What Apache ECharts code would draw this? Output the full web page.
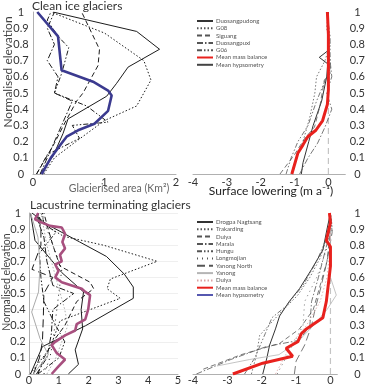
<!DOCTYPE html>
<html>
<head>
<meta charset="utf-8">
<script src="https://cdn.jsdelivr.net/npm/echarts@6/dist/echarts.min.js"></script>
<style>html,body{margin:0;padding:0;background:#fff}#main{width:368px;height:386px}</style>
</head>
<body>
<div id="main"></div>
<script>
// hypsometry of clean ice glaciers: [area km2, normalised elevation]
var cleanDuosangpudong = [[0.1,0],[0.28,0.11],[0.42,0.25],[0.49,0.34],[1.03,0.48],[1.17,0.56],[1.33,0.66],[1.77,0.77],[1.45,0.88],[0.28,1.0]];
var cleanG08 = [[0.15,0],[0.3,0.1],[0.6,0.2],[1.0,0.33],[1.45,0.42],[1.65,0.58],[1.55,0.7],[1.0,0.87],[0.25,1.0]];
var cleanSiguang = [[0.05,0],[0.3,0.19],[0.45,0.32],[0.61,0.45],[0.7,0.5],[0.91,0.67],[0.93,0.77],[0.68,1.0]];
var cleanDuosangpuxi = [[0.1,0],[0.2,0.1],[0.35,0.25],[0.45,0.35],[0.55,0.45],[0.3,0.5],[0.35,0.6],[0.2,0.7],[0.3,0.8],[0.2,0.9],[0.3,1.0]];
var cleanG06 = [[0.05,0],[0.2,0.12],[0.65,0.22],[0.55,0.3],[1.05,0.32],[0.75,0.42],[0.3,0.5],[0.4,0.62],[0.5,0.78],[0.35,0.85],[0.2,0.95],[0.25,1.0]];
var cleanMeanHyps = [[0.12,0],[0.25,0.1],[0.4,0.19],[0.47,0.23],[0.63,0.27],[0.86,0.31],[1.05,0.39],[1.1,0.485],[1.05,0.515],[0.84,0.57],[0.4,0.64],[0.35,0.85],[0.06,1.0]];

// surface lowering clean ice: [m a-1, normalised elevation]
var lowDuosangpudong = [[-0.8,0],[-0.75,0.07],[-0.58,0.2],[-0.45,0.3],[-0.2,0.45],[-0.05,0.6],[-0.02,0.68],[-0.27,0.72],[-0.02,0.76],[0,0.9],[0,1]];
var lowG08 = [[-1.1,0],[-0.95,0.1],[-0.75,0.2],[-0.55,0.35],[-0.4,0.5],[-0.35,0.6],[-0.1,0.7],[0.05,0.8],[-0.05,0.9],[0,1]];
var lowSiguang = [[-1.43,0],[-1.0,0.12],[-0.7,0.22],[-0.41,0.29],[-0.25,0.42],[-0.12,0.58],[0.05,0.62],[0,0.8],[0,1]];
var lowDuosangpuxi = [[-0.85,0],[-0.6,0.1],[-0.32,0.19],[-0.1,0.29],[0.1,0.4],[-0.05,0.5],[0.1,0.6],[0,0.8],[0,1]];
var lowG06 = [[-1.25,0],[-1.1,0.1],[-0.9,0.2],[-0.6,0.3],[-0.35,0.45],[-0.15,0.55],[0.05,0.65],[0.05,0.85],[-0.05,1]];
var lowCleanMean = [[-1.08,0],[-0.9,0.13],[-0.75,0.18],[-0.61,0.23],[-0.37,0.27],[-0.17,0.33],[-0.03,0.43],[0,0.52],[0,0.86],[-0.03,1]];

// hypsometry of lacustrine terminating glaciers
var lakeDrogpa = [[0.05,0],[0.45,0.17],[1.9,0.3],[3.5,0.47],[3.5,0.54],[3.2,0.62],[2.6,0.73],[1.7,0.82],[1.2,0.87],[0.6,0.93],[0.1,1.0]];
var lakeSolid2 = [[1.32,0],[1.66,0.06],[1.55,0.15],[1.8,0.28],[1.75,0.4],[1.83,0.51],[1.1,0.63],[0.2,0.83],[0.05,1.0]];
var lakeTrakarding = [[0.04,0],[0.7,0.16],[1.04,0.33],[3.06,0.47],[2.62,0.53],[2.73,0.59],[4.3,0.7],[2.5,0.8],[1.16,0.855],[0.5,0.93],[0.45,1.0]];
var lakeDuiya = [[0.3,0],[0.5,0.1],[0.8,0.2],[1.2,0.3],[1.6,0.45],[2.17,0.53],[2.05,0.57],[1.04,0.67],[0.8,0.8],[0.6,0.93],[0.5,1.0]];
var lakeMarala = [[0.25,0],[0.6,0.1],[0.75,0.25],[0.8,0.4],[1.5,0.5],[0.8,0.55],[0.6,0.7],[0.5,0.85],[0.3,0.95],[0.3,1.0]];
var lakeHungu = [[0.3,0],[1.0,0.1],[1.2,0.2],[0.9,0.3],[0.5,0.45],[0.4,0.6],[0.35,0.75],[0.9,0.88],[0.4,0.95],[0.3,1.0]];
var lakeLongmojian = [[0.5,0],[0.7,0.1],[0.8,0.2],[0.9,0.35],[1.0,0.5],[1.1,0.65],[0.8,0.8],[0.6,0.9],[0.4,1.0]];
var lakeYanongNorth = [[0.15,0],[0.35,0.1],[0.45,0.2],[0.48,0.35],[0.5,0.5],[0.8,0.6],[0.1,0.65],[0.4,0.8],[0.4,0.9],[0.3,1.0]];
var lakeYanong = [[0.15,0],[0.65,0.12],[0.37,0.22],[0.09,0.385],[0.32,0.51],[0.37,0.67],[0.3,0.85],[0.05,1.0]];
var lakeDuiya2 = [[0.6,0],[0.9,0.1],[1.1,0.2],[1.3,0.3],[1.2,0.4],[0.9,0.6],[0.6,0.8],[0.4,1.0]];
var lakeMeanHyps = [[0.76,0],[0.99,0.047],[1.21,0.09],[0.93,0.13],[0.76,0.18],[0.88,0.2],[1.21,0.24],[1.55,0.27],[1.6,0.31],[1.89,0.34],[1.99,0.405],[2.05,0.49],[1.89,0.51],[1.77,0.53],[1.1,0.57],[0.88,0.6],[0.99,0.64],[0.88,0.68],[1.1,0.7],[1.04,0.74],[1.21,0.78],[1.12,0.82],[1.21,0.87],[1.1,0.91],[0.71,0.92],[0.43,0.94],[0.2,0.96],[0.31,1.0]];

// surface lowering lacustrine terminating glaciers
var lowDrogpa = [[-1.97,0],[-1.85,0.1],[-1.77,0.18],[-1.6,0.28],[-1.48,0.36],[-1.2,0.45],[-0.9,0.53],[-0.55,0.65],[-0.22,0.77],[-0.1,0.9],[0,1]];
var lowTrakarding = [[-2.3,0],[-2.15,0.12],[-2.06,0.24],[-1.5,0.37],[-0.95,0.49],[-0.6,0.6],[-0.3,0.72],[-0.1,0.85],[0.05,0.92],[0,1]];
var lowDuiya = [[-3.7,0.03],[-2.6,0.12],[-1.48,0.19],[-0.9,0.28],[-0.5,0.4],[-0.3,0.55],[-0.1,0.7],[0,0.9],[0,1]];
var lowMarala = [[-3.9,0],[-2.9,0.09],[-1.87,0.17],[-0.9,0.21],[-0.6,0.3],[-0.55,0.45],[-0.35,0.6],[-0.05,0.85],[0,1]];
var lowHungu = [[-2.5,0],[-2.2,0.1],[-1.9,0.25],[-1.7,0.35],[-1.3,0.42],[-0.8,0.55],[-0.4,0.7],[-0.1,0.85],[0,1]];
var lowLongmojian = [[-1.55,0],[-1.3,0.1],[-1.05,0.2],[-0.8,0.3],[-0.75,0.45],[-0.4,0.6],[-0.15,0.75],[0.05,0.88],[0,1]];
var lowYanongNorth = [[-1.05,0],[-1.0,0.08],[-0.75,0.18],[-0.55,0.3],[-0.45,0.4],[-0.3,0.52],[-0.1,0.7],[0.05,0.88],[0,1]];
var lowYanong = [[-3.3,0.05],[-2.35,0.09],[-1.5,0.12],[-0.95,0.2],[-0.5,0.3],[-0.1,0.4],[0.17,0.49],[0,0.6],[0,0.8],[0,1]];
var lowDuiya2 = [[-1.6,0],[-1.35,0.1],[-1.1,0.2],[-0.7,0.3],[-0.3,0.45],[-0.1,0.6],[0,0.8],[0,1]];
var lowLakeMean = [[-2.84,0],[-1.97,0.067],[-1.1,0.11],[-1.29,0.16],[-0.95,0.2],[-0.85,0.25],[-0.7,0.28],[-0.22,0.35],[-0.12,0.45],[0,0.67],[0,0.79],[-0.12,0.83],[0,0.94],[-0.03,1.0]];

var zeroLine = [[0,0],[0,1]];

var FONT = 'Lato';
var DOT = [1.5,2], DASH = [5,3], DASHDOT = [6,2,1.5,2], DASHDOTDOT = [5,2,1.5,2,1.5,2], SPARSE = [1,4], LONGDASH = [8,4];

function ln(name, data, idx, color, width, dash, z) {
  return {
    name: name, type: 'line', xAxisIndex: idx, yAxisIndex: idx, data: data,
    symbol: 'none', silent: true, z: z || 2,
    lineStyle: {color: color, width: width, type: dash || 'solid'},
    itemStyle: {color: color}
  };
}

function yAx(idx, pos, margin, fs, showLine, split) {
  return {
    type: 'value', gridIndex: idx, position: pos, min: 0, max: 1, interval: 0.1,
    axisLine: {show: showLine, lineStyle: {color: '#b0b0b0'}},
    axisTick: {show: false},
    splitLine: {show: split, lineStyle: {color: '#efefef'}},
    axisLabel: {margin: margin, align: 'center', fontSize: fs, color: '#333', fontFamily: FONT}
  };
}
function xAx(idx, min, max, margin, fs, showMax) {
  return {
    type: 'value', gridIndex: idx, min: min, max: max, interval: 1,
    axisLine: {show: true, onZero: false, lineStyle: {color: '#b0b0b0'}},
    axisTick: {show: false}, splitLine: {show: false},
    axisLabel: {margin: margin, fontSize: fs, color: '#333', fontFamily: FONT, showMaxLabel: showMax}
  };
}

var K = '#1c1c1c', G = '#555';
var series = [
  ln('Duosangpudong#c', cleanDuosangpudong, 0, K, 1),
  ln('G08#c', cleanG08, 0, K, 1, DOT),
  ln('Siguang#c', cleanSiguang, 0, K, 1, DASH),
  ln('Duosangpuxi#c', cleanDuosangpuxi, 0, K, 1, DASHDOT),
  ln('G06#c', cleanG06, 0, K, 1, DASHDOTDOT),
  ln('Mean hypsometry#c', cleanMeanHyps, 0, '#3b3a8f', 2.6, 'solid', 5),

  ln('zero#2', zeroLine, 1, '#c4c4c4', 1.2, [6,4], 1),
  ln('Duosangpudong', lowDuosangpudong, 1, '#333', 1),
  ln('G08', lowG08, 1, G, 0.8, DOT),
  ln('Siguang', lowSiguang, 1, G, 0.8, DASH),
  ln('Duosangpuxi', lowDuosangpuxi, 1, G, 0.8, DASHDOT),
  ln('G06', lowG06, 1, G, 0.8, DASHDOTDOT),
  ln('Mean mass balance', lowCleanMean, 1, '#e8211d', 3, 'solid', 5),
  ln('Mean hypsometry', [], 1, '#444', 1.5),

  ln('Drogpa#l', lakeDrogpa, 2, K, 1),
  ln('Solid2#l', lakeSolid2, 2, K, 1),
  ln('Trakarding#l', lakeTrakarding, 2, K, 1, DOT),
  ln('Duiya#l', lakeDuiya, 2, K, 1, DASH),
  ln('Marala#l', lakeMarala, 2, K, 1, DASHDOT),
  ln('Hungu#l', lakeHungu, 2, K, 1, DASHDOTDOT),
  ln('Longmojian#l', lakeLongmojian, 2, K, 1, SPARSE),
  ln('Yanong North#l', lakeYanongNorth, 2, K, 1, LONGDASH),
  ln('Yanong#l', lakeYanong, 2, '#aaa', 1),
  ln('Duiya2#l', lakeDuiya2, 2, '#999', 0.8, DOT),
  ln('Mean hypsometry#l', lakeMeanHyps, 2, '#a8507f', 2.6, 'solid', 5),

  ln('zero#4', zeroLine, 3, '#c4c4c4', 1.2, [6,4], 1),
  ln('Drogpa Nagtsang', lowDrogpa, 3, '#333', 1),
  ln('Trakarding', lowTrakarding, 3, G, 0.8, DOT),
  ln('Duiya', lowDuiya, 3, G, 0.8, DASH),
  ln('Marala', lowMarala, 3, G, 0.8, DASHDOT),
  ln('Hungu', lowHungu, 3, G, 0.8, DASHDOTDOT),
  ln('Longmojian', lowLongmojian, 3, G, 0.8, SPARSE),
  ln('Yanong North', lowYanongNorth, 3, G, 0.8, LONGDASH),
  ln('Yanong', lowYanong, 3, '#b5b5b5', 0.8),
  ln('Duiya#2', lowDuiya2, 3, '#d9a3a3', 0.8, DOT),
  ln('Mean mass balance#4', lowLakeMean, 3, '#e8211d', 3, 'solid', 5),
  ln('Mean hypsometry#4', [], 3, '#5658b0', 1.5)
];

function legend(top, names) {
  return {
    orient: 'vertical', left: 191, top: top, data: names, selectedMode: false,
    itemWidth: 16, itemHeight: 6, itemGap: 1.3,
    itemStyle: {opacity: 0},
    textStyle: {fontSize: 6, lineHeight: 6, color: '#555', fontFamily: FONT, padding: [0,0,0,-2]},
    formatter: function (n) { return n.split('#')[0]; }
  };
}

var chart = echarts.init(document.getElementById('main'));
chart.setOption({
  animation: false,
  backgroundColor: '#fff',
  grid: [
    {left: 33, top: 12, width: 143, height: 162},
    {left: 193, top: 12, width: 155, height: 162},
    {left: 29, top: 213, width: 149, height: 163},
    {left: 193, top: 213, width: 145, height: 163}
  ],
  xAxis: [xAx(0, 0, 2, 3, 11, true), xAx(1, -4, 0.5, 3, 11, false), xAx(2, 0, 5, 1, 11, true), xAx(3, -4, 0.2, 1, 11, false)],
  yAxis: [yAx(0, 'left', 12, 11, true, false), yAx(1, 'right', 12, 11, false, false), yAx(2, 'left', 11, 11, true, true), yAx(3, 'right', 20, 11, false, false)],
  legend: [
    legend(13, ['Duosangpudong', 'G08', 'Siguang', 'Duosangpuxi', 'G06', 'Mean mass balance', 'Mean hypsometry']),
    legend(214, ['Drogpa Nagtsang', 'Trakarding', 'Duiya', 'Marala', 'Hungu', 'Longmojian', 'Yanong North', 'Yanong', 'Duiya#2', 'Mean mass balance#4', 'Mean hypsometry#4'])
  ],
  graphic: [
    {type: 'text', left: 32, top: 0, style: {text: 'Clean ice glaciers', fontSize: 12, fill: '#333', fontFamily: FONT}},
    {type: 'text', left: 30, top: 199, style: {text: 'Lacustrine terminating glaciers', fontSize: 12, fill: '#333', fontFamily: FONT}},
    {type: 'text', x: 119, y: 189, style: {text: 'Glacierised area (Km\u00b2)', fontSize: 10.5, fill: '#666', fontFamily: FONT, align: 'center', verticalAlign: 'middle'}},
    {type: 'text', x: 271, y: 191, style: {text: 'Surface lowering (m a\u207b\u00b9)', fontSize: 12, fill: '#222', fontFamily: FONT, align: 'center', verticalAlign: 'middle'}},
    {type: 'text', x: 8, y: 72, rotation: Math.PI / 2, style: {text: 'Normalised elevation', fontSize: 12, fill: '#444', fontFamily: FONT, align: 'center', verticalAlign: 'middle'}},
    {type: 'text', x: 7, y: 282, rotation: Math.PI / 2, style: {text: 'Normalised elevation', fontSize: 10.5, fill: '#444', fontFamily: FONT, align: 'center', verticalAlign: 'middle'}}
  ],
  series: series
});
</script>
</body>
</html>
